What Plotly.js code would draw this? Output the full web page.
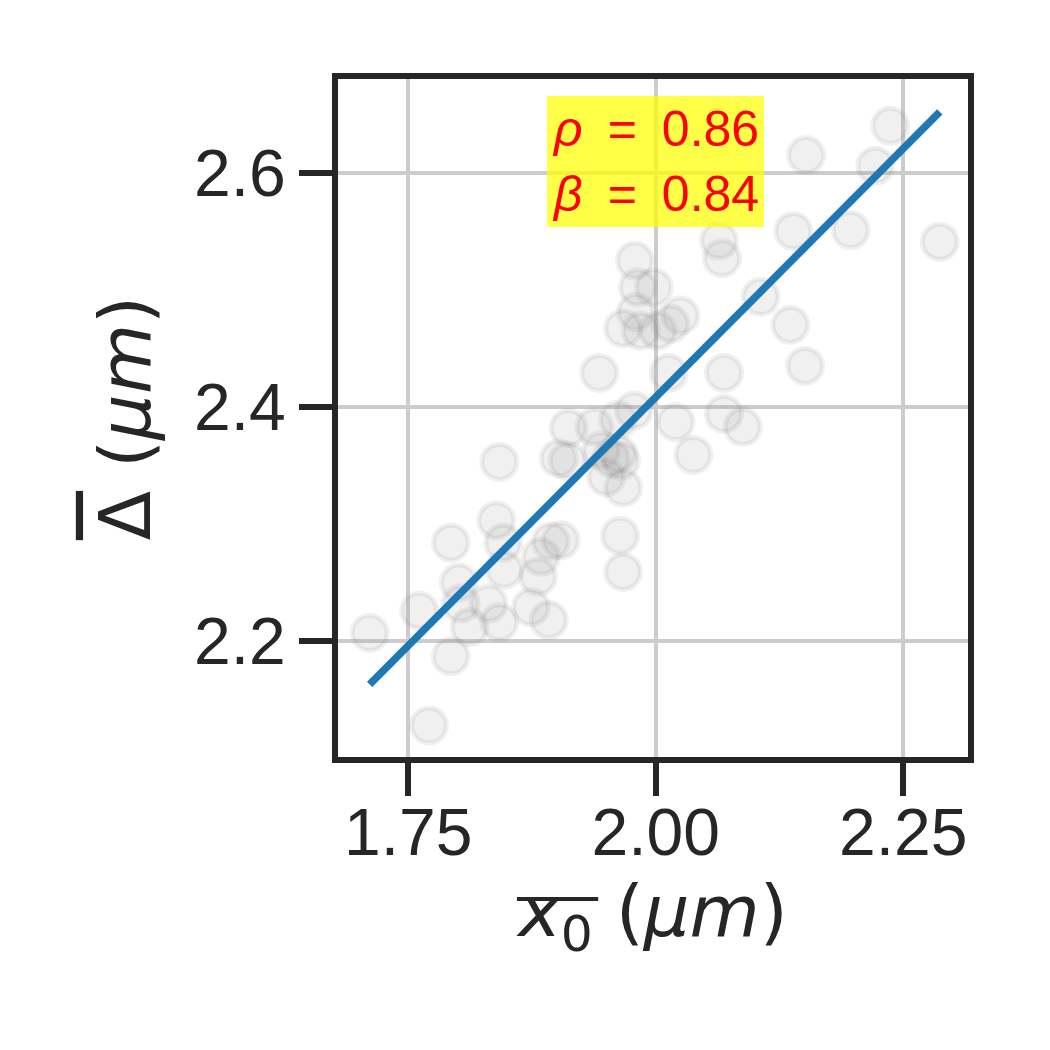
<!DOCTYPE html>
<html>
<head>
<meta charset="utf-8">
<script src="https://cdn.plot.ly/plotly-3.0.1.min.js"></script>
<style>html,body{margin:0;padding:0;background:#fff;}#chart{width:1050px;height:1050px;}</style>
</head>
<body>
<div id="chart"></div>
<script>
// Scatter data (mean x0 vs mean Delta, µm)
const x0Mean = [1.711, 1.771, 1.761, 1.793, 1.793, 1.801, 1.803, 1.812, 1.831, 1.839,
  1.842, 1.842, 1.846, 1.847, 1.874, 1.881, 1.884, 1.892, 1.894, 1.904,
  1.902, 1.911, 1.912, 1.938, 1.943, 1.945, 1.950, 1.962, 1.962, 1.965,
  1.967, 1.964, 1.967, 1.978, 1.979, 1.982, 1.998, 1.980, 1.967, 1.985,
  2.002, 2.015, 2.025, 2.013, 2.020, 2.038, 2.064, 2.067, 2.069, 2.069,
  2.088, 2.106, 2.136, 2.139, 2.151, 2.152, 2.197, 2.222, 2.237, 2.287, 1.955];
const deltaMean = [2.207, 2.128, 2.226, 2.284, 2.187, 2.250, 2.232, 2.212, 2.232, 2.303,
  2.353, 2.216, 2.284, 2.261, 2.229, 2.255, 2.272, 2.218, 2.285, 2.286,
  2.356, 2.354, 2.382, 2.383, 2.429, 2.363, 2.340, 2.389, 2.360, 2.354,
  2.331, 2.290, 2.259, 2.397, 2.525, 2.502, 2.502, 2.481, 2.467, 2.465,
  2.465, 2.471, 2.478, 2.429, 2.387, 2.359, 2.542, 2.527, 2.429, 2.394,
  2.383, 2.494, 2.470, 2.550, 2.435, 2.615, 2.551, 2.606, 2.640, 2.541, 2.356];
// Fitted regression line endpoints
const fitX = [1.711, 2.287];
const fitY = [2.163, 2.652];
const rho = 0.86;
const beta = 0.84;
const xTicks = [1.75, 2.00, 2.25];
const xTickText = ['1.75', '2.00', '2.25'];
const yTicks = [2.2, 2.4, 2.6];
const yTickText = ['2.2', '2.4', '2.6'];

const font = 'Liberation Sans, Arial, sans-serif';
const mathFont = 'DejaVu Sans, sans-serif';
const traces = [
  {x: x0Mean, y: deltaMean, type: 'scatter', mode: 'markers',
   marker: {size: 35, color: 'rgba(128,128,128,0.12)', line: {color: 'rgba(128,128,128,0.12)', width: 5}},
   hoverinfo: 'skip', showlegend: false},
  {x: fitX, y: fitY, type: 'scatter', mode: 'lines',
   line: {color: '#1f77b4', width: 7.5}, showlegend: false}
];
const axisCommon = {
  showline: true, linecolor: '#262626', linewidth: 6, mirror: true,
  ticks: 'outside', ticklen: 33, tickwidth: 6, tickcolor: '#262626',
  showgrid: true, gridcolor: '#cccccc', gridwidth: 4, zeroline: false,
  tickfont: {family: font, size: 66, color: '#262626'}, automargin: false
};
const layout = {
  width: 1050, height: 1050,
  paper_bgcolor: '#ffffff', plot_bgcolor: '#ffffff',
  margin: {l: 338, r: 82, t: 79, b: 293},
  xaxis: Object.assign({}, axisCommon, {
    range: [1.679, 2.3155], tickvals: xTicks, ticktext: xTickText, ticklabelstandoff: -20,
    title: {text: '<i>x</i><sub>0</sub> (<i>μm</i>)',
            font: {family: mathFont, size: 72, color: '#262626'}, standoff: 18}
  }),
  yaxis: Object.assign({}, axisCommon, {
    range: [2.101, 2.680], tickvals: yTicks, ticktext: yTickText,
    title: {text: '<span style="text-decoration:overline">Δ</span> (<i>μm</i>)',
            font: {family: mathFont, size: 72, color: '#262626'}, standoff: 22}
  }),
  // overline bar of the x-axis title (decoration)
  shapes: [{type: 'line', xref: 'paper', yref: 'paper', x0: 0.284, x1: 0.413, y0: -0.2095, y1: -0.2095,
            line: {color: '#262626', width: 4}}],
  annotations: [{
    xref: 'x', yref: 'paper', x: 2.0, y: 0.975, xanchor: 'center', yanchor: 'top',
    text: '<i>ρ</i>\u2002=\u2002' + rho.toFixed(2) + '<br><i>β</i>\u2002=\u2002' + beta.toFixed(2),
    showarrow: false, align: 'right',
    font: {family: font, size: 50, color: '#ff0000'},
    bgcolor: 'rgba(255,255,0,0.72)', borderpad: 5, borderwidth: 0
  }]
};
Plotly.newPlot('chart', traces, layout, {displayModeBar: false, staticPlot: true});
</script>
</body>
</html>
